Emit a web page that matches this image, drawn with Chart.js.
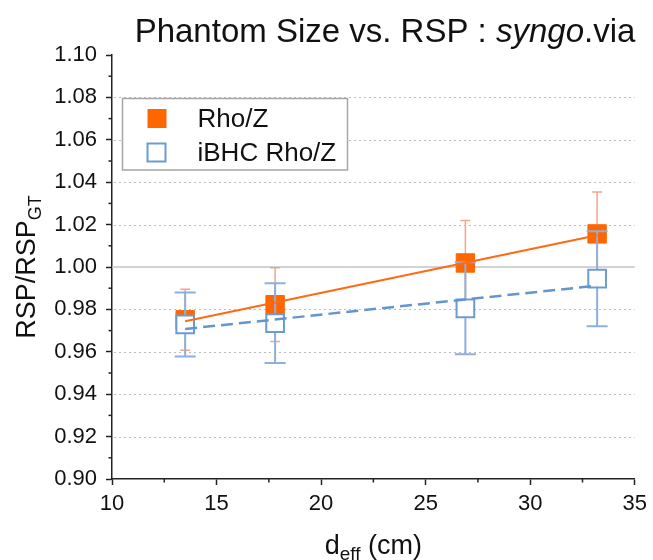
<!DOCTYPE html>
<html><head><meta charset="utf-8">
<style>html,body{margin:0;padding:0;background:#fff;}#wrap{width:653px;height:560px;}</style>
<script src="https://cdn.jsdelivr.net/npm/chart.js@4.4.1/dist/chart.umd.min.js"></script>
</head><body><div id="wrap"><canvas id="c" width="653" height="560"></canvas></div>
<script>
// ---- data ----
const dEff = [13.5, 17.8, 26.9, 33.2];
const rhoZ = [0.9751, 0.9822, 1.0019, 1.0156];
const rhoZErr = [0.0144, 0.0174, 0.0200, 0.0198];
const ibhcRhoZ = [0.9729, 0.9735, 0.9805, 0.9945];
const ibhcErr = [0.0151, 0.0188, 0.0217, 0.0224];
// fitted trend lines (end points)
const fitX = [13.5, 33.2];
const fitRhoZ = [0.9744, 1.0150];
const fitIbhc = [0.9708, 0.9912];
const xTicks = [10, 15, 20, 25, 30, 35];
const yTicks = [0.90, 0.92, 0.94, 0.96, 0.98, 1.00, 1.02, 1.04, 1.06, 1.08, 1.10];
const refLine = 1.00;
const labels = ['Rho/Z', 'iBHC Rho/Z'];

const FONT = '"Liberation Sans", Arial, sans-serif';
const ORANGE = '#FF6600', ORANGE_ERR = '#F4A48C', ORANGE_LINE = '#FF6A14';
const BLUE = '#6C9BD2', BLUE_ERR = '#8CB0DA', BLUE_LINE = '#6496CE';

const pts = (xs, ys) => xs.map((x, i) => ({x, y: ys[i]}));

function drawRuns(ctx, runs, x, y, center) {
  let total = 0;
  runs.forEach(r => { ctx.font = r.font; r.w = ctx.measureText(r.text).width; total += r.w; });
  let cx = center ? x - total / 2 : x;
  ctx.textAlign = 'left'; ctx.textBaseline = 'alphabetic';
  runs.forEach(r => { ctx.font = r.font; ctx.fillText(r.text, cx, y + (r.dy || 0)); cx += r.w; });
}

const errorBars = {
  id: 'errorBars',
  beforeDatasetDraw(chart, args) {
    const ds = chart.data.datasets[args.index];
    if (!ds.errors) return;
    const xs = chart.scales.x, ys = chart.scales.y, ctx = chart.ctx;
    ctx.save();
    ctx.strokeStyle = ds.errColor; ctx.lineWidth = ds.errWidth;
    ds.data.forEach((p, i) => {
      const px = xs.getPixelForValue(p.x);
      const t = ys.getPixelForValue(p.y + ds.errors[i]);
      const b = ys.getPixelForValue(p.y - ds.errors[i]);
      const h = ds.capHalf;
      ctx.beginPath();
      ctx.moveTo(px, t); ctx.lineTo(px, b);
      ctx.moveTo(px - h, t); ctx.lineTo(px + h, t);
      ctx.moveTo(px - h, b); ctx.lineTo(px + h, b);
      ctx.stroke();
    });
    ctx.restore();
  }
};

const decor = {
  id: 'decor',
  beforeDatasetsDraw(chart) {
    const {ctx, chartArea: a, scales: {y}} = chart;
    ctx.save();
    ctx.lineWidth = 1.2;
    yTicks.forEach(v => {
      if (v === yTicks[0] || v === yTicks[yTicks.length - 1] || Math.abs(v - refLine) < 1e-9) return;
      const py = Math.round(y.getPixelForValue(v)) + 0.5;
      ctx.strokeStyle = '#bcbcbc'; ctx.setLineDash([2, 3]);
      ctx.beginPath(); ctx.moveTo(a.left + 2, py); ctx.lineTo(a.right, py); ctx.stroke();
    });
    ctx.setLineDash([]);
    ctx.strokeStyle = '#c4c4c4'; ctx.lineWidth = 1.5;
    const pr = y.getPixelForValue(refLine);
    ctx.beginPath(); ctx.moveTo(a.left, pr); ctx.lineTo(a.right, pr); ctx.stroke();
    ctx.restore();
  },
  afterDraw(chart) {
    const {ctx, chartArea: a, scales: {x, y}} = chart;
    ctx.save();
    // minor ticks
    ctx.strokeStyle = '#222'; ctx.lineWidth = 1.5;
    for (let i = 0; i < yTicks.length - 1; i++) {
      const py = y.getPixelForValue((yTicks[i] + yTicks[i + 1]) / 2);
      ctx.beginPath(); ctx.moveTo(a.left, py); ctx.lineTo(a.left - 3.5, py); ctx.stroke();
    }
    for (let i = 0; i < xTicks.length - 1; i++) {
      const px = x.getPixelForValue((xTicks[i] + xTicks[i + 1]) / 2);
      ctx.beginPath(); ctx.moveTo(px, a.bottom); ctx.lineTo(px, a.bottom + 3.5); ctx.stroke();
    }
    ctx.fillStyle = '#111';
    // title
    drawRuns(ctx, [
      {text: 'Phantom Size vs. RSP : ', font: '33px ' + FONT},
      {text: 'syngo', font: 'italic 33px ' + FONT},
      {text: '.via', font: '33px ' + FONT}
    ], 385, 42, true);
    // x title
    drawRuns(ctx, [
      {text: 'd', font: '27px ' + FONT},
      {text: 'eff', font: '19px ' + FONT, dy: 6},
      {text: ' (cm)', font: '27px ' + FONT}
    ], (a.left + a.right) / 2, 554, true);
    // y title
    ctx.save();
    ctx.translate(35, (a.top + a.bottom) / 2);
    ctx.rotate(-Math.PI / 2);
    drawRuns(ctx, [
      {text: 'RSP/RSP', font: '27px ' + FONT},
      {text: 'GT', font: '18px ' + FONT, dy: 6}
    ], 0, 0, true);
    ctx.restore();
    // legend
    const lx = a.left + 10.5, ly = a.top + 43.5, lw = 225, lh = 71.5;
    ctx.fillStyle = '#fff'; ctx.fillRect(lx, ly, lw, lh);
    ctx.strokeStyle = '#a6a6a6'; ctx.lineWidth = 1.5; ctx.strokeRect(lx, ly, lw, lh);
    ctx.fillStyle = ORANGE; ctx.fillRect(lx + 25, ly + 10.5, 19, 19);
    ctx.fillStyle = '#fff'; ctx.strokeStyle = BLUE; ctx.lineWidth = 2;
    ctx.fillRect(lx + 25, ly + 45, 18, 18); ctx.strokeRect(lx + 25, ly + 45, 18, 18);
    ctx.fillStyle = '#111';
    drawRuns(ctx, [{text: labels[0], font: '26px ' + FONT}], lx + 75, ly + 28, false);
    drawRuns(ctx, [{text: labels[1], font: '26px ' + FONT}], lx + 75, ly + 62.5, false);
    ctx.restore();
  }
};

new Chart(document.getElementById('c'), {
  type: 'scatter',
  data: {
    datasets: [
      {label: 'fit ' + labels[0], data: pts(fitX, fitRhoZ), showLine: true, borderColor: ORANGE_LINE,
       borderWidth: 2, pointRadius: 0, fill: false},
      {label: 'fit ' + labels[1], data: pts(fitX, fitIbhc), showLine: true, borderColor: BLUE_LINE,
       borderWidth: 2.5, borderDash: [12, 6], pointRadius: 0, fill: false},
      {label: labels[1], data: pts(dEff, ibhcRhoZ), pointStyle: 'rect', pointRadius: 12.5,
       backgroundColor: '#fff', borderColor: BLUE, borderWidth: 2,
       errors: ibhcErr, errColor: BLUE_ERR, errWidth: 2, capHalf: 10.5},
      {label: labels[0], data: pts(dEff, rhoZ), pointStyle: 'rect', pointRadius: 13,
       backgroundColor: ORANGE, borderColor: ORANGE, borderWidth: 1,
       errors: rhoZErr, errColor: ORANGE_ERR, errWidth: 1.5, capHalf: 5}
    ]
  },
  options: {
    responsive: false, animation: false, devicePixelRatio: 1,
    layout: {padding: {top: 55, right: 15, left: 0, bottom: 0}},
    plugins: {legend: {display: false}, tooltip: {enabled: false}},
    scales: {
      x: {
        type: 'linear', min: 10, max: 35,
        afterBuildTicks: s => { s.ticks = xTicks.map(v => ({value: v})); },
        afterFit: s => { s.height = 81; },
        grid: {drawOnChartArea: false, drawTicks: true, tickLength: 6, tickColor: '#222', tickWidth: 1.5},
        border: {display: true, color: '#222', width: 1.5},
        ticks: {color: '#111', font: {family: FONT, size: 22}, padding: 6, maxRotation: 0, autoSkip: false}
      },
      y: {
        type: 'linear', min: 0.9, max: 1.1,
        afterBuildTicks: s => { s.ticks = yTicks.map(v => ({value: v})); },
        afterFit: s => { s.width = 112; },
        grid: {drawOnChartArea: false, drawTicks: true, tickLength: 6, tickColor: '#222', tickWidth: 1.5},
        border: {display: true, color: '#222', width: 1.5},
        ticks: {color: '#111', font: {family: FONT, size: 22}, padding: 9, autoSkip: false,
                callback: v => v.toFixed(2)}
      }
    }
  },
  plugins: [errorBars, decor]
});
</script></body></html>
